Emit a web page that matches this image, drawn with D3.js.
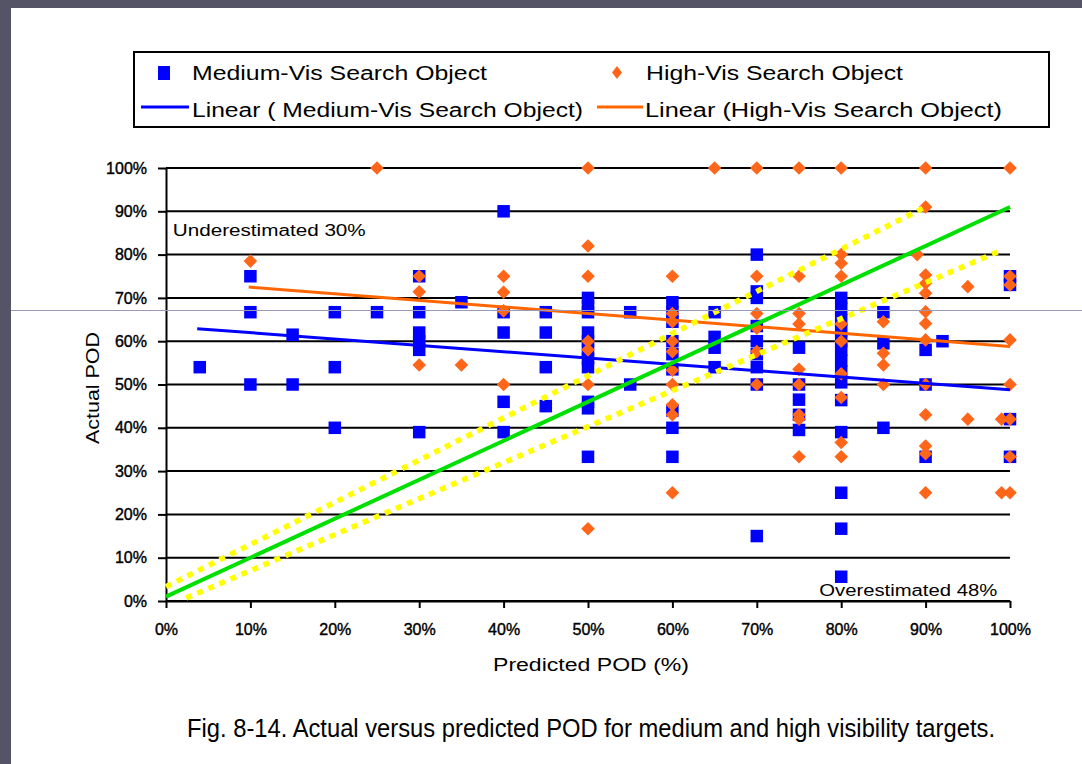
<!DOCTYPE html>
<html><head><meta charset="utf-8">
<script src="https://cdn.jsdelivr.net/npm/d3@7"></script>
<style>
html,body{margin:0;padding:0;background:#545466;}
svg{display:block;}
text{font-family:"Liberation Sans",Arial,sans-serif;fill:#000;}
</style></head>
<body>
<svg id="c" width="1082" height="764"></svg>
<script>
// ---- data ----
const tickValues = [0,10,20,30,40,50,60,70,80,90,100];
const seriesNames = ["Medium-Vis Search Object","High-Vis Search Object"];
const trendNames = ["Linear ( Medium-Vis Search Object)","Linear (High-Vis Search Object)"];
const mediumPoints = [
 [4,54],
 [10,75],[10,66.7],[10,50],
 [15,61.5],[15,50],
 [20,66.7],[20,54],[20,40],
 [25,66.7],
 [30,75],[30,66.7],[30,62],[30,60],[30,58],[30,39],
 [35,69],
 [40,90],[40,66.7],[40,62],[40,46],[40,39],
 [45,66.7],[45,62],[45,54],[45,45],
 [50,70],[50,68],[50,66.7],[50,62],[50,60],[50,58],[50,56],[50,54],[50,46],[50,44.5],[50,33.3],
 [55,66.7],[55,50],
 [60,69],[60,66.7],[60,64.5],[60,60],[60,57],[60,53.5],[60,44],[60,40],[60,33.3],
 [65,66.7],[65,61],[65,58.5],[65,54],
 [70,80],[70,71.5],[70,70],[70,63.5],[70,60],[70,57],[70,54],[70,50],[70,15],
 [75,58.5],[75,50],[75,46.5],[75,43],[75,39.5],
 [80,70],[80,67.5],[80,65],[80,62.5],[80,60],[80,58],[80,55.5],[80,53],[80,50.5],[80,46.4],[80,39],[80,25],[80,16.7],[80,5.6],
 [85,66.7],[85,59.5],[85,40],
 [90,58],[90,50],[90,33.3],
 [92,60],
 [100,75],[100,73],[100,42],[100,33.3]
];
const highPoints = [
 [10,78.5],
 [25,100],
 [30,75],[30,71.4],[30,54.5],
 [35,54.5],
 [40,75],[40,71.3],[40,67],[40,50],
 [50,100],[50,82],[50,75],[50,60],[50,58],[50,50],[50,16.7],
 [60,75],[60,66.4],[60,64.5],[60,60],[60,57.6],[60,53.3],[60,50],[60,45.3],[60,43],[60,25],
 [65,100],
 [70,100],[70,75],[70,66.4],[70,63],[70,57.6],[70,50],
 [75,100],[75,75],[75,66.4],[75,64],[75,53.5],[75,50],[75,43],[75,42],[75,33.3],
 [80,100],[80,80],[80,78],[80,75],[80,64],[80,60],[80,52.5],[80,47],[80,36.6],[80,33.3],
 [85,64.5],[85,57.2],[85,54.5],[85,50],
 [89,80],
 [90,100],[90,91],[90,75.3],[90,73.4],[90,71.1],[90,66.8],[90,64.1],[90,60.3],[90,50],[90,43],[90,35.8],[90,34],[90,25],
 [95,72.6],[95,42],
 [99,42],[99,25],
 [100,100],[100,75],[100,73],[100,60.3],[100,50],[100,42],[100,33.3],[100,25]
];
// trend lines (endpoints)
const mediumTrend = [[3.7,62.9],[100,48.8]];
const highTrend = [[9.8,72.5],[100,58.8]];
// reference lines
const greenLine = [[0,1],[100,91]];
const yellowUpper = [[0,3.3],[90,91]];
const yellowLower = [[2.4,0.7],[99,81]];
const annotations = [
 {text:"Underestimated  30%", x:0.8, y:85.7, len:193},
 {text:"Overestimated 48%", x:77.4, y:2.5, len:178}
];

// ---- drawing ----
const svg = d3.select("#c");
svg.append("rect").attr("x",11).attr("y",8).attr("width",1071).attr("height",756).attr("fill","#fff");

const x = d3.scaleLinear().domain([0,100]).range([166,1010]);
const y = d3.scaleLinear().domain([0,100]).range([601,168]);

// gridlines
svg.append("g").selectAll("line").data(tickValues).join("line")
  .attr("x1",x(0)).attr("x2",x(100))
  .attr("y1",d=>y(d)).attr("y2",d=>y(d))
  .attr("stroke","#000").attr("stroke-width",2);

// y axis
const ya = svg.append("g").attr("transform",`translate(${x(0)},0)`)
  .call(d3.axisLeft(y).tickValues(tickValues).tickFormat(d=>d+"%").tickSizeInner(8).tickSizeOuter(0).tickPadding(11));
ya.select(".domain").attr("stroke","#000").attr("stroke-width",2);
ya.selectAll(".tick line").attr("stroke","#000").attr("stroke-width",2);
ya.selectAll(".tick text").attr("font-size",16).attr("font-family","Liberation Sans, Arial, sans-serif").attr("fill","#000")
  .attr("stroke","#000").attr("stroke-width",0.4);

// x axis
const xa = svg.append("g").attr("transform",`translate(0,${y(0)})`)
  .call(d3.axisBottom(x).tickValues(tickValues).tickFormat(d=>d+"%").tickSizeInner(7).tickSizeOuter(0).tickPadding(16));
xa.select(".domain").attr("stroke","#000").attr("stroke-width",2);
xa.selectAll(".tick line").attr("stroke","#000").attr("stroke-width",2);
xa.selectAll(".tick text").attr("font-size",16).attr("font-family","Liberation Sans, Arial, sans-serif").attr("fill","#000")
  .attr("stroke","#000").attr("stroke-width",0.4);

// medium squares
const sq = 12.5;
svg.append("g").selectAll("rect").data(mediumPoints).join("rect")
  .attr("x",d=>x(d[0])-sq/2).attr("y",d=>y(d[1])-sq/2)
  .attr("width",sq).attr("height",sq).attr("fill","#0000ff");

// high diamonds
const dr = 6.8;
svg.append("g").selectAll("path").data(highPoints).join("path")
  .attr("d",d=>{const cx=x(d[0]),cy=y(d[1]);return `M${cx},${cy-dr}L${cx+dr},${cy}L${cx},${cy+dr}L${cx-dr},${cy}Z`;})
  .attr("fill","#ff6619");

const line = d3.line().x(d=>x(d[0])).y(d=>y(d[1]));
svg.append("path").datum(mediumTrend).attr("d",line).attr("stroke","#0000ff").attr("stroke-width",3).attr("fill","none");
svg.append("path").datum(highTrend).attr("d",line).attr("stroke","#ff6600").attr("stroke-width",3).attr("fill","none");
svg.append("path").datum(yellowUpper).attr("d",line).attr("stroke","#ffff00").attr("stroke-width",5.5).attr("stroke-dasharray","6,6").attr("fill","none");
svg.append("path").datum(yellowLower).attr("d",line).attr("stroke","#ffff00").attr("stroke-width",5.5).attr("stroke-dasharray","6,6").attr("fill","none");
svg.append("path").datum(greenLine).attr("d",line).attr("stroke","#00e000").attr("stroke-width",4).attr("fill","none");

// annotations
svg.append("g").selectAll("text").data(annotations).join("text")
  .attr("x",d=>x(d.x)).attr("y",d=>y(d.y)).attr("dy","0.35em")
  .attr("font-size",16).attr("textLength",d=>d.len).attr("lengthAdjust","spacingAndGlyphs")
  .text(d=>d.text);

// axis titles
svg.append("text").attr("transform","translate(93,388) rotate(-90)")
  .attr("text-anchor","middle").attr("dy","0.35em").attr("font-size",18)
  .attr("textLength",112).attr("lengthAdjust","spacingAndGlyphs").text("Actual POD");
svg.append("text").attr("x",591).attr("y",665).attr("text-anchor","middle").attr("dy","0.35em")
  .attr("font-size",18).attr("textLength",196).attr("lengthAdjust","spacingAndGlyphs").text("Predicted POD (%)");

// caption
svg.append("text").attr("x",187).attr("y",728).attr("dy","0.35em")
  .attr("font-size",25).attr("textLength",808).attr("lengthAdjust","spacingAndGlyphs")
  .text("Fig. 8-14.  Actual versus predicted  POD for medium and high visibility targets.");

// legend
const lg = svg.append("g");
lg.append("rect").attr("x",134).attr("y",52).attr("width",915).attr("height",75)
  .attr("fill","#fff").attr("stroke","#000").attr("stroke-width",2);
lg.append("rect").attr("x",158).attr("y",66).attr("width",12).attr("height",14).attr("fill","#0000ff");
lg.append("path").attr("d","M617,66L622,72.5L617,79L612,72.5Z").attr("fill","#ff6619");
lg.append("line").attr("x1",141).attr("x2",189).attr("y1",107).attr("y2",107).attr("stroke","#0000ff").attr("stroke-width",3);
lg.append("line").attr("x1",597).attr("x2",643).attr("y1",107).attr("y2",107).attr("stroke","#ff6600").attr("stroke-width",3);
const legTexts = [
 {t:seriesNames[0], x:192, y:73, len:295},
 {t:seriesNames[1], x:646, y:73, len:257},
 {t:trendNames[0], x:192, y:110, len:391},
 {t:trendNames[1], x:645, y:110, len:357}
];
lg.selectAll("text").data(legTexts).join("text")
  .attr("x",d=>d.x).attr("y",d=>d.y).attr("dy","0.35em").attr("font-size",20)
  .attr("textLength",d=>d.len).attr("lengthAdjust","spacingAndGlyphs").text(d=>d.t);

// thin slide guide line
svg.append("line").attr("x1",11).attr("x2",1082).attr("y1",310.5).attr("y2",310.5)
  .attr("stroke","#9a9ab8").attr("stroke-width",1);
</script>
</body></html>
